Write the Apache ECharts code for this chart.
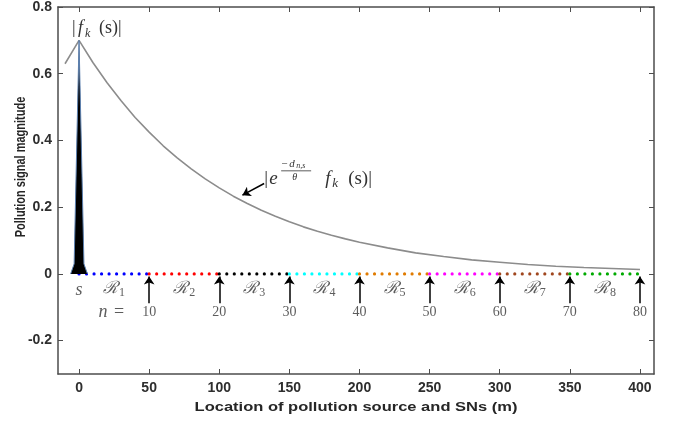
<!DOCTYPE html>
<html><head><meta charset="utf-8">
<script src="https://cdn.jsdelivr.net/npm/echarts@6/dist/echarts.min.js"></script>
<style>html,body{margin:0;padding:0;background:#fff}#c{width:677px;height:422px}</style>
</head><body><div id="c"></div>
<script>
// ---- data ----
const curveX = [-10,0,10,20,30,40,50,60,70,80,90,100,110,120,130,140,150,160,170,180,190,200,220,240,260,280,300,320,340,360,380,400];
const curveY = [0.630,0.700,0.633,0.573,0.519,0.469,0.425,0.384,0.348,0.315,0.285,0.258,0.233,0.211,0.191,0.173,0.156,0.141,0.128,0.116,0.105,0.095,0.078,0.063,0.052,0.042,0.035,0.028,0.023,0.019,0.016,0.013];
const spikeX = [-6,-3.5,0,3.5,6];
const spikeY = [0,0.03,0.70,0.03,0];
const segStart = [0,50,100,150,200,250,300,350];
const segEnd = [50,100,150,200,250,300,350,400];
const segColors = ['#0000ff','#ff0000','#000000','#00ffff','#e07b00','#ff00ff','#a0461e','#00aa00'];
const regionLabels = ['1','2','3','4','5','6','7','8'];
const regionX = [25,75,125,175,225,275,325,375];
const nodeX = [50,100,150,200,250,300,350,400];
const nodeLabels = ['10','20','30','40','50','60','70','80'];
const xTicks = [0,50,100,150,200,250,300,350,400];
const yTicks = [-0.2,0,0.2,0.4,0.6,0.8];
const arrowBottom = -0.088, arrowTop = -0.008;
const regionLabelY = -0.045, nodeLabelY = -0.114;
const xTitle = 'Location of pollution source and SNs (m)';
const yTitle = 'Pollution signal magnitude';

const chart = echarts.init(document.getElementById('c'));
const axisCol = '#4d4d4d';
const tickFont = {fontFamily:'Liberation Sans, Arial', fontWeight:'bold', fontSize:14, color:'#2e2e2e'};
const serif = 'Liberation Serif, DejaVu Serif, serif';

const series = [];
segStart.forEach((s,i)=>{
  series.push({type:'line', data:[[s,0],[segEnd[i],0]], showSymbol:false, silent:true, z:2,
    lineStyle:{color:segColors[i], width:3.2, type:[0.01,7.5], cap:'round'}});
});
series.push({type:'line', data:curveX.map((x,i)=>[x,curveY[i]]), showSymbol:false, smooth:false, z:3,
  lineStyle:{color:'#8c8c8c', width:1.6}});
series.push({type:'line', data:spikeX.map((x,i)=>[x,spikeY[i]]), showSymbol:false, z:4,
  lineStyle:{color:'#5b7fae', width:1}, areaStyle:{color:'#000', opacity:1, origin:0}});
series.push({type:'lines', coordinateSystem:'cartesian2d', z:5,
  symbol:['none','arrow'], symbolSize:[0,8],
  lineStyle:{color:'#000', width:1.5, opacity:1},
  data:nodeX.map(x=>({coords:[[x,arrowBottom],[x,arrowTop]]}))});
series.push({type:'lines', coordinateSystem:'cartesian2d', z:5,
  symbol:['none','arrow'], symbolSize:[0,8],
  lineStyle:{color:'#000', width:1.5, opacity:1},
  data:[{coords:[[132,0.271],[116.5,0.236]]}]});
series.push({type:'scatter', symbolSize:0, z:6,
  data:nodeX.map((x,i)=>({value:[x,nodeLabelY], label:{formatter:nodeLabels[i]}})),
  label:{show:true, position:'inside', fontFamily:serif, fontSize:14, color:'#333'}});
series.push({type:'scatter', symbolSize:0, z:6,
  data:regionX.map((x,i)=>({value:[x,regionLabelY], label:{formatter:'{r|ℛ}{s|'+regionLabels[i]+'}'}})),
  label:{show:true, position:'inside', color:'#333',
    rich:{r:{fontFamily:'DejaVu Serif', fontStyle:'italic', fontSize:17, color:'#333', lineHeight:26, verticalAlign:'middle'},
          s:{fontFamily:serif, fontSize:12, color:'#333', lineHeight:26, verticalAlign:'bottom', padding:[0,0,3,1]}}}});
series.push({type:'scatter', symbolSize:0, z:6,
  data:[{value:[0,-0.05], label:{formatter:'{i|s}'}},{value:[23,nodeLabelY], label:{formatter:'{i|n}  {u|=}'}}],
  label:{show:true, position:'inside', rich:{i:{fontFamily:serif, fontStyle:'italic', fontSize:18, color:'#333'}, u:{fontFamily:serif, fontSize:18, color:'#333'}}}});

chart.setOption({
  animation:false,
  grid:{left:58, top:6, right:23, bottom:48},
  xAxis:[{type:'value', min:-15, max:410, position:'bottom',
      axisLine:{show:true, onZero:false, lineStyle:{color:axisCol, width:1.5}},
      axisTick:{show:true, inside:true, length:5, customValues:xTicks, lineStyle:{color:axisCol}},
      axisLabel:Object.assign({customValues:xTicks, margin:7, formatter:v=>String(v)}, tickFont),
      splitLine:{show:false}},
    {type:'value', min:-15, max:410, position:'top',
      axisLine:{show:true, onZero:false, lineStyle:{color:axisCol, width:1.5}},
      axisTick:{show:true, inside:true, length:5, customValues:xTicks, lineStyle:{color:axisCol}},
      axisLabel:{show:false}, splitLine:{show:false}}],
  yAxis:[{type:'value', min:-0.3, max:0.8, position:'left',
      axisLine:{show:true, onZero:false, lineStyle:{color:axisCol, width:1.5}},
      axisTick:{show:true, inside:true, length:5, customValues:yTicks, lineStyle:{color:axisCol}},
      axisLabel:Object.assign({customValues:yTicks, margin:6, formatter:v=>Math.abs(v)<1e-9?'0':v.toFixed(1)}, tickFont),
      splitLine:{show:false}},
    {type:'value', min:-0.3, max:0.8, position:'right',
      axisLine:{show:true, onZero:false, lineStyle:{color:axisCol, width:1.5}},
      axisTick:{show:true, inside:true, length:5, customValues:yTicks, lineStyle:{color:axisCol}},
      axisLabel:{show:false}, splitLine:{show:false}}],
  series:series
});

const P = (x,y)=>chart.convertToPixel({gridIndex:0},[x,y]);
const a = P(132,0.285);
const t = P(-5,0.735);
const txt = (x,y,s,size,italic,extra)=>Object.assign({type:'text', x:x, y:y, z:100,
  style:{text:s, fontFamily:serif, fontSize:size, fontStyle:italic?'italic':'normal', fill:'#333', textVerticalAlign:'middle', textAlign:'left'}}, extra||{});
const titleStyle = {fontFamily:'Liberation Sans, Arial', fontWeight:'bold', fill:'#262626', textAlign:'center', textVerticalAlign:'middle'};
chart.setOption({graphic:[
  {type:'text', x:356, y:407, scaleX:1.27, z:100, style:Object.assign({text:xTitle, fontSize:13}, titleStyle)},
  {type:'text', x:21, y:167, rotation:Math.PI/2, scaleY:1.3, z:100, style:Object.assign({text:yTitle, fontSize:11}, titleStyle)},
  // |f_k (s)|
  txt(t[0],t[1],'|',18,false), txt(t[0]+6,t[1],'f',18,true), txt(t[0]+13,t[1]+5,'k',12,true),
  txt(t[0]+27,t[1],'(s)|',18,false),
  // |e^{-d_{n,s}/θ} f_k (s)|
  txt(a[0],a[1],'|',19,false), txt(a[0]+5,a[1],'e',19,true),
  txt(a[0]+17,a[1]-15,'−',11,false), txt(a[0]+25,a[1]-15,'d',11,true), txt(a[0]+32,a[1]-13,'n,s',8,true),
  {type:'line', z:100, shape:{x1:a[0]+17,y1:a[1]-8,x2:a[0]+47,y2:a[1]-8}, style:{stroke:'#333', lineWidth:0.8}},
  txt(a[0]+28,a[1]-1,'θ',10,true),
  txt(a[0]+61,a[1],'f',19,true), txt(a[0]+68,a[1]+5,'k',13,true),
  txt(a[0]+84,a[1],'(s)|',19,false)
]});
</script></body></html>
